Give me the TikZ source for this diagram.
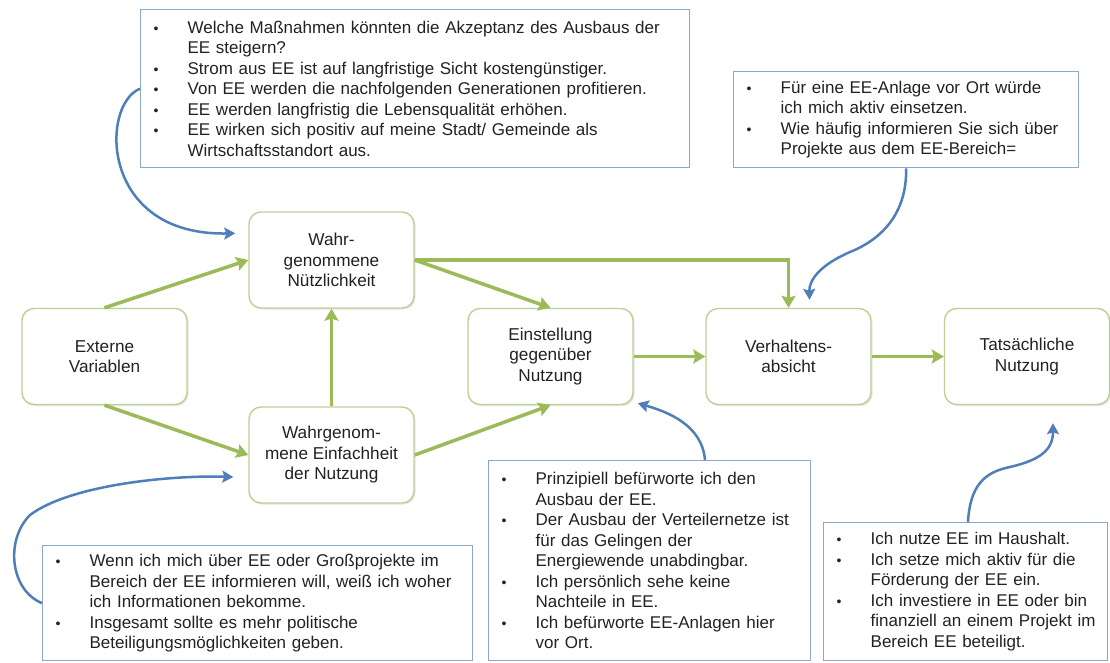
\documentclass[tikz,border=0pt]{standalone}
\usepackage{fontspec}
\setmainfont{Liberation Sans}
\usetikzlibrary{arrows.meta,calc,shadows}

\definecolor{arrowgreen}{HTML}{9BBB59}
\definecolor{boxgreen}{HTML}{BDD093}
\definecolor{noteblue}{HTML}{8BA7C9}
\definecolor{curveblue}{HTML}{4F7FB8}
\definecolor{textgray}{HTML}{222222}

% bullet and continuation indent for the note boxes
\newcommand{\bl}{\makebox[40pt][l]{\hspace{6pt}\fontsize{14}{14}\selectfont\textbullet}}
\newcommand{\ind}{\hspace*{40pt}}

\begin{document}
\begin{tikzpicture}[x=1pt,y=-1pt,
  model/.style={draw=boxgreen, line width=1.4pt, rounded corners=12pt, fill=white,
    minimum width=165pt, minimum height=96pt, align=center, text=textgray,
    font=\fontsize{17.2}{20.5}\selectfont,
    drop shadow={shadow xshift=1.5pt, shadow yshift=-1.5pt, opacity=0.2}},
  note/.style={draw=noteblue, line width=1.3pt, fill=white, anchor=north west,
    align=left, inner xsep=7pt, inner ysep=0pt, text=textgray,
    font=\fontsize{17}{20.5}\selectfont},
  flow/.style={draw=arrowgreen, line width=3.5pt,
    -{Stealth[length=12pt,width=14pt,inset=2pt]}},
  hint/.style={draw=curveblue, line width=2.5pt,
    -{Stealth[length=11pt,width=12pt,inset=2pt]}}]

\fill[white] (0,0) rectangle (1110,662);
\useasboundingbox (0,0) rectangle (1110,662);

% model boxes
\node[model] (ext)   at (104.5,356.5) {Externe\\Variablen};
\node[model] (nutz)  at (331.5,260)   {Wahr-\\genommene\\Nützlichkeit};
\node[model] (einf)  at (331.5,455)   {Wahrgenom-\\mene Einfachheit\\der Nutzung};
\node[model] (einst) at (550.5,356.5) {Einstellung\\gegenüber\\Nutzung};
\node[model] (verh)  at (788.5,356.5) {Verhaltens-\\absicht};
\node[model] (tats)  at (1027,356.5)  {Tatsächliche\\Nutzung};

% item notes
\node[note, text width=535pt, minimum width=549pt, minimum height=158pt] (tl) at (140,9) {%
\bl Welche Maßnahmen könnten die Akzeptanz des Ausbaus der\\
\ind EE steigern?\\
\bl Strom aus EE ist auf langfristige Sicht kostengünstiger.\\
\bl Von EE werden die nachfolgenden Generationen profitieren.\\
\bl EE werden langfristig die Lebensqualität erhöhen.\\
\bl EE wirken sich positiv auf meine Stadt/ Gemeinde als\\
\ind Wirtschaftsstandort aus.};

\node[note, text width=331pt, minimum width=345pt, minimum height=96pt] (tr) at (733,71) {%
\bl Für eine EE-Anlage vor Ort würde\\
\ind ich mich aktiv einsetzen.\\
\bl Wie häufig informieren Sie sich über\\
\ind Projekte aus dem EE-Bereich=};

\node[note, text width=416pt, minimum width=430pt, minimum height=115pt] (bl) at (42,545) {%
\bl Wenn ich mich über EE oder Großprojekte im\\
\ind Bereich der EE informieren will, weiß ich woher\\
\ind ich Informationen bekomme.\\
\bl Insgesamt sollte es mehr politische\\
\ind Beteiligungsmöglichkeiten geben.};

\node[note, text width=308pt, minimum width=322pt, minimum height=200pt] (bm) at (488,460) {%
\bl Prinzipiell befürworte ich den\\
\ind Ausbau der EE.\\
\bl Der Ausbau der Verteilernetze ist\\
\ind für das Gelingen der\\
\ind Energiewende unabdingbar.\\
\bl Ich persönlich sehe keine\\
\ind Nachteile in EE.\\
\bl Ich befürworte EE-Anlagen hier\\
\ind vor Ort.};

\node[note, text width=270pt, minimum width=284pt, minimum height=138pt] (br) at (823,522) {%
\bl Ich nutze EE im Haushalt.\\
\bl Ich setze mich aktiv für die\\
\ind Förderung der EE ein.\\
\bl Ich investiere in EE oder bin\\
\ind \mbox{finanziell an einem Projekt im}\\
\ind Bereich EE beteiligt.};

% model relations
\draw[flow] (ext.north) -- (nutz.west);
\draw[flow] (ext.south) -- (einf.west);
\draw[flow] (einf.north) -- (nutz.south);
\draw[flow] (nutz.east) -- (einst.north);
\draw[flow] (einf.east) -- (einst.south);
\draw[flow] (nutz.east) -| (verh.north);
\draw[flow] (einst.east) -- (verh.west);
\draw[flow] (verh.east) -- (tats.west);

% where the notes point to
\coordinate (tipA) at ($(nutz.north west)+(-13,22)$);
\coordinate (tipB) at ($(einf.west)+(-15,22)$);
\coordinate (tipC) at ($(einst.south east)+(4,-2)$);
\coordinate (tipD) at ($(tats.south)+(26,18)$);
\coordinate (tipE) at ($(verh.north)+(21,-8)$);
\coordinate (startC) at ($(bm.north west)+(217,0)$);
\coordinate (startD) at ($(br.north west)+(145,0)$);

\draw[hint] (tl.west) .. controls (100,105) and (100,236) .. (tipA);
\draw[hint] (bl.west) .. controls (10,590) and (5,540) .. (30,515)
  .. controls (70,485) and (170,475) .. (tipB);
\draw[hint] (startC) .. controls (702,425) and (668,412) .. (tipC);
\draw[hint] (startD) .. controls (970,485) and (985,472) .. (1010,467)
  .. controls (1040,460) and (1053,450) .. (tipD);
\draw[hint] (tr.south) .. controls (907,215) and (880,240) .. (850,252)
  .. controls (820,265) and (809,280) .. (tipE);
\end{tikzpicture}
\end{document}
